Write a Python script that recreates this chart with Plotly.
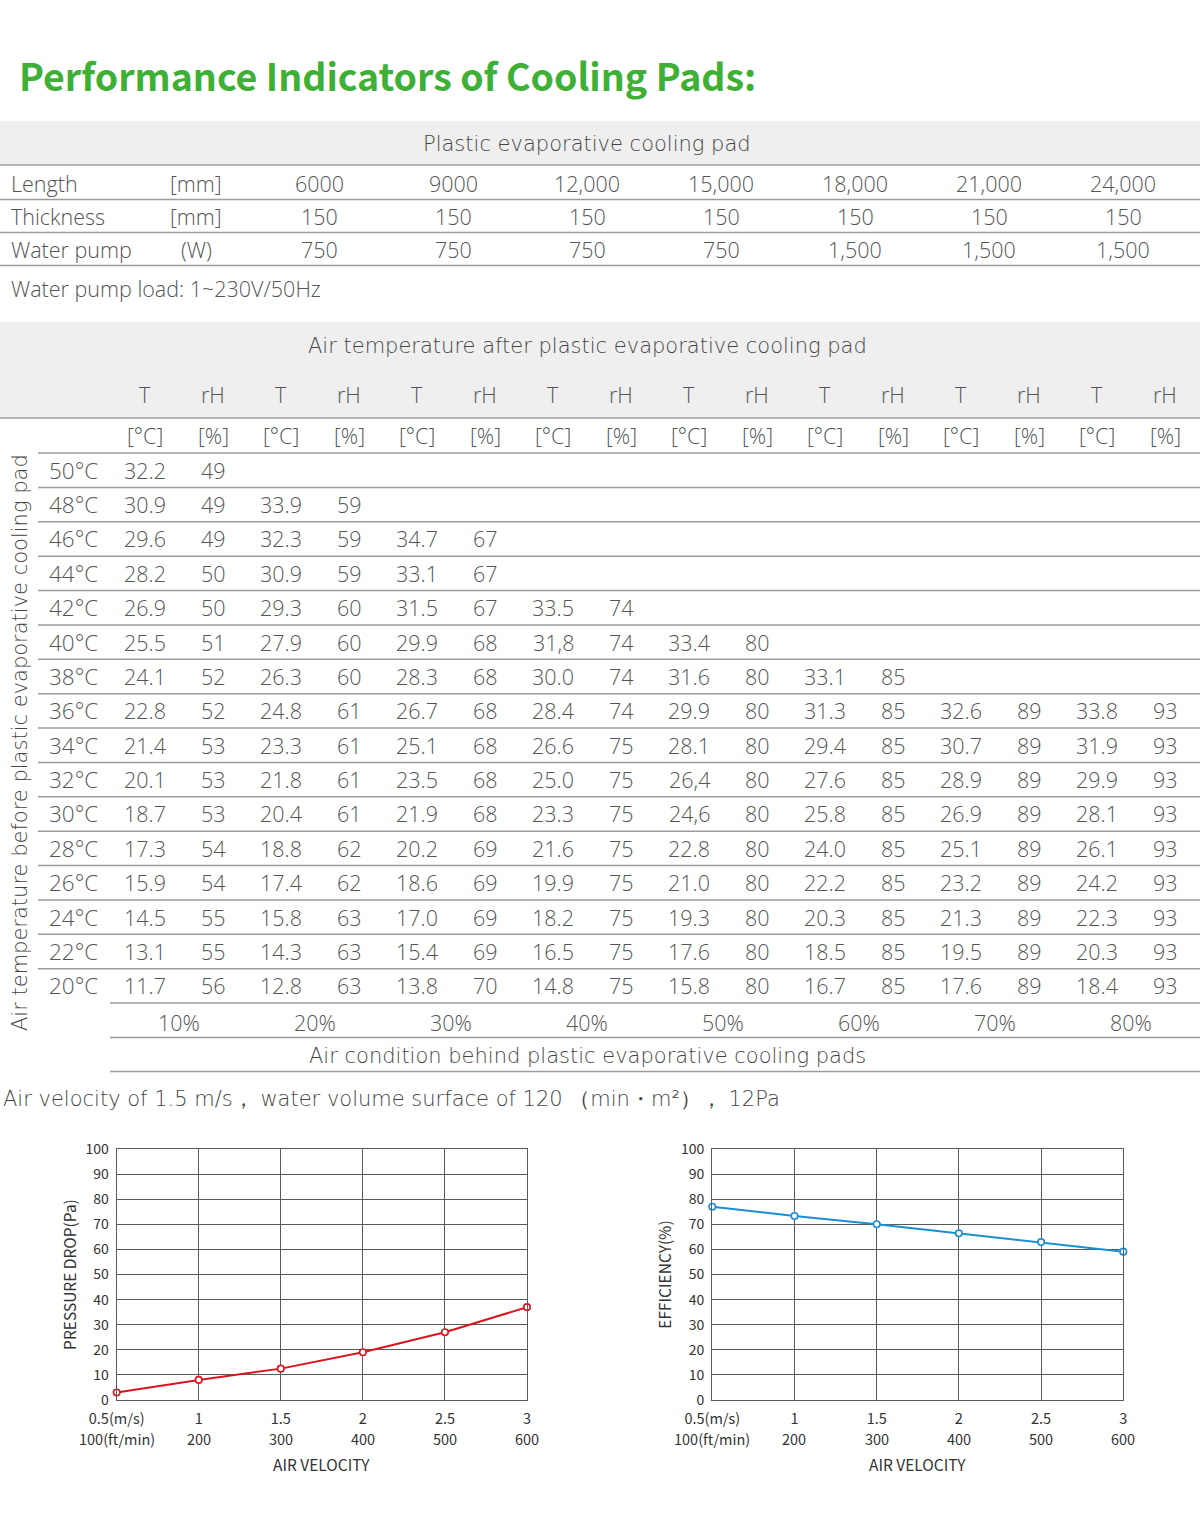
import plotly.graph_objects as go

W, H = 1200, 1536

# %% data
spec_units = ["[mm]", "[mm]", "(W)"]
spec_labels = ["Length", "Thickness", "Water pump"]
pad_lengths = ["6000", "9000", "12,000", "15,000", "18,000", "21,000", "24,000"]
pad_thickness = ["150", "150", "150", "150", "150", "150", "150"]
pump_power = ["750", "750", "750", "750", "1,500", "1,500", "1,500"]

inlet_temps = [50, 48, 46, 44, 42, 40, 38, 36, 34, 32, 30, 28, 26, 24, 22, 20]
inlet_rh = ["10%", "20%", "30%", "40%", "50%", "60%", "70%", "80%"]

# outlet temperature [C] per inlet row, one value per inlet humidity column
out_T = [
    ["32.2"],
    ["30.9", "33.9"],
    ["29.6", "32.3", "34.7"],
    ["28.2", "30.9", "33.1"],
    ["26.9", "29.3", "31.5", "33.5"],
    ["25.5", "27.9", "29.9", "31,8", "33.4"],
    ["24.1", "26.3", "28.3", "30.0", "31.6", "33.1"],
    ["22.8", "24.8", "26.7", "28.4", "29.9", "31.3", "32.6", "33.8"],
    ["21.4", "23.3", "25.1", "26.6", "28.1", "29.4", "30.7", "31.9"],
    ["20.1", "21.8", "23.5", "25.0", "26,4", "27.6", "28.9", "29.9"],
    ["18.7", "20.4", "21.9", "23.3", "24,6", "25.8", "26.9", "28.1"],
    ["17.3", "18.8", "20.2", "21.6", "22.8", "24.0", "25.1", "26.1"],
    ["15.9", "17.4", "18.6", "19.9", "21.0", "22.2", "23.2", "24.2"],
    ["14.5", "15.8", "17.0", "18.2", "19.3", "20.3", "21.3", "22.3"],
    ["13.1", "14.3", "15.4", "16.5", "17.6", "18.5", "19.5", "20.3"],
    ["11.7", "12.8", "13.8", "14.8", "15.8", "16.7", "17.6", "18.4"],
]
# outlet relative humidity [%]
out_rH = [
    [49],
    [49, 59],
    [49, 59, 67],
    [50, 59, 67],
    [50, 60, 67, 74],
    [51, 60, 68, 74, 80],
    [52, 60, 68, 74, 80, 85],
    [52, 61, 68, 74, 80, 85, 89, 93],
    [53, 61, 68, 75, 80, 85, 89, 93],
    [53, 61, 68, 75, 80, 85, 89, 93],
    [53, 61, 68, 75, 80, 85, 89, 93],
    [54, 62, 69, 75, 80, 85, 89, 93],
    [54, 62, 69, 75, 80, 85, 89, 93],
    [55, 63, 69, 75, 80, 85, 89, 93],
    [55, 63, 69, 75, 80, 85, 89, 93],
    [56, 63, 70, 75, 80, 85, 89, 93],
]

velocity_ms = [0.5, 1, 1.5, 2, 2.5, 3]
velocity_ms_labels = ["0.5(m/s)", "1", "1.5", "2", "2.5", "3"]
velocity_fpm_labels = ["100(ft/min)", "200", "300", "400", "500", "600"]
pressure_drop = [3, 8, 12.5, 19, 27, 37]
efficiency = [77, 73.3, 70, 66.4, 62.9, 59.1]

# %% helpers
TFONT = "Open Sans"
WIDE = "DejaVu Sans"   # wider face for the long header phrases
CFONT = "Noto Sans CJK SC"
GREY = "#555555"
LINE = "#9d9d9d"

shapes = []
annotations = []


def px(x):
    return x / W


def py(y):
    return 1 - y / H


def hline(y, x0=0, x1=W, color=LINE, width=1.5):
    shapes.append(dict(type="line", xref="paper", yref="paper",
                       x0=px(x0), x1=px(x1), y0=py(y), y1=py(y),
                       line=dict(color=color, width=width)))


def band(y0, y1):
    shapes.append(dict(type="rect", xref="paper", yref="paper",
                       x0=0, x1=1, y0=py(y1), y1=py(y0),
                       fillcolor="#efefef", line_width=0, layer="below"))


def text(x, y, s, size=21.5, anchor="center", color=GREY, angle=0, family=TFONT, weight=300):
    annotations.append(dict(xref="paper", yref="paper", x=px(x), y=py(y), text=s,
                            showarrow=False, xanchor=anchor, yanchor="middle",
                            textangle=angle,
                            font=dict(size=size, color=color, family=family, weight=weight)))


# %% title
text(17, 74, "Performance Indicators of Cooling Pads:", size=37.5, anchor="left",
     color="#3db035", family=CFONT, weight=700)

# %% table 1
band(121, 165)
text(587, 144, "Plastic evaporative cooling pad", size=21, family=WIDE, color="#444444")
hline(165, color="#b5b5b5", width=2)
col1_x = [319 + 134 * i for i in range(7)]
row1_y = [184, 217, 249]
for r, vals in enumerate([pad_lengths, pad_thickness, pump_power]):
    text(9, row1_y[r], spec_labels[r], anchor="left")
    text(196, row1_y[r], spec_units[r])
    for c, v in enumerate(vals):
        text(col1_x[c], row1_y[r], v)
for y in [199.5, 232.5, 265.5]:
    hline(y)
text(9, 288, "Water pump load: 1~230V/50Hz", anchor="left")

# %% table 2
band(322, 418)
text(587, 346, "Air temperature after plastic evaporative cooling pad",
     size=21, family=WIDE, color="#444444")
hline(418, color="#b5b5b5", width=2)
col2_x = [145 + 68 * i for i in range(16)]
for i, x in enumerate(col2_x):
    text(x, 394, "T" if i % 2 == 0 else "rH")
    text(x, 435, "[°C]" if i % 2 == 0 else "[%]")

row_h = 34.375
top = 453
for r, t in enumerate(inlet_temps):
    yc = top + row_h * (r + 0.5)
    text(47, yc, "%d°C" % t, anchor="left", size=22.5)
    for c in range(len(out_T[r])):
        text(col2_x[2 * c], yc, out_T[r][c])
        text(col2_x[2 * c + 1], yc, str(out_rH[r][c]))
for k in range(len(inlet_temps) + 1):
    hline(top + row_h * k, x0=38 if k < len(inlet_temps) else 110)

bottom = top + row_h * len(inlet_temps)
for c, lab in enumerate(inlet_rh):
    text((col2_x[2 * c] + col2_x[2 * c + 1]) / 2, bottom + 19, lab)
hline(bottom + 34.4, x0=110)
text(587, bottom + 53, "Air condition behind plastic evaporative cooling pads",
     size=21, family=WIDE, color="#444444")
hline(bottom + 68.6, x0=110)

text(20, 743, "Air temperature before plastic evaporative cooling pad", angle=-90,
     size=21, family=WIDE, color="#444444")

text(1, 1099, "Air velocity of 1.5 m/s， water volume surface of 120 （min・m²）， 12Pa",
     size=21, anchor="left", family=WIDE, color="#444444")

# %% charts
fig = go.Figure()

fig.add_trace(go.Scatter(
    x=velocity_ms, y=pressure_drop, mode="lines+markers",
    line=dict(color="#d9151e", width=2),
    marker=dict(size=6.5, color="white", line=dict(color="#d9151e", width=1.6)),
    xaxis="x", yaxis="y", cliponaxis=False, showlegend=False))

fig.add_trace(go.Scatter(
    x=velocity_ms, y=efficiency, mode="lines+markers",
    line=dict(color="#1a8fd3", width=2),
    marker=dict(size=6.5, color="white", line=dict(color="#1a8fd3", width=1.6)),
    xaxis="x2", yaxis="y2", cliponaxis=False, showlegend=False))

CHART_TXT = dict(family=CFONT, size=14, color="#333333")
XTICK_TXT = dict(CHART_TXT, size=14.5)
TITLE_TXT = dict(CHART_TXT, size=15.5)
axis_style = dict(showgrid=True, gridcolor="#5a5a5a", gridwidth=1.2,
                  showline=True, linecolor="#5a5a5a", linewidth=1.2, mirror=True,
                  zeroline=False, ticks="", fixedrange=True, automargin=False)

charts = [("x", "y", 116.7, 527, "PRESSURE DROP(Pa)"),
          ("x2", "y2", 712.3, 1123.3, "EFFICIENCY(%)")]
layout_axes = {}
for xa, ya, x0, x1, ytitle in charts:
    xkey = "xaxis" if xa == "x" else "xaxis2"
    ykey = "yaxis" if ya == "y" else "yaxis2"
    layout_axes[xkey] = dict(axis_style, domain=[px(x0), px(x1)], range=[0.5, 3],
                             tickvals=velocity_ms, ticktext=velocity_ms_labels,
                             tickfont=XTICK_TXT, anchor=ya, ticklabelstandoff=5)
    layout_axes[ykey] = dict(axis_style, domain=[py(1400), py(1149)], range=[0, 100],
                             dtick=10, anchor=xa, ticklabelstandoff=4, tickfont=CHART_TXT,
                             title=dict(text=ytitle, standoff=5, font=TITLE_TXT))
    for v, lab in zip(velocity_ms, velocity_fpm_labels):
        annotations.append(dict(xref=xa, yref="paper", x=v, y=py(1438), text=lab,
                                showarrow=False, xanchor="center", yanchor="middle",
                                font=XTICK_TXT))
    annotations.append(dict(xref=xa + " domain", yref="paper", x=0.5, y=py(1464),
                            text="AIR VELOCITY", showarrow=False,
                            xanchor="center", yanchor="middle", font=TITLE_TXT))

fig.update_layout(
    template="none",
    width=W, height=H, autosize=False,
    margin=dict(l=0, r=0, t=0, b=0, pad=0),
    paper_bgcolor="white", plot_bgcolor="white",
    shapes=shapes, annotations=annotations,
    **layout_axes,
)

# the page's default body margin would shift the figure by 8px
fig.write_html("out.html", config={"displayModeBar": False},
               post_script="document.body.style.margin='0';")
